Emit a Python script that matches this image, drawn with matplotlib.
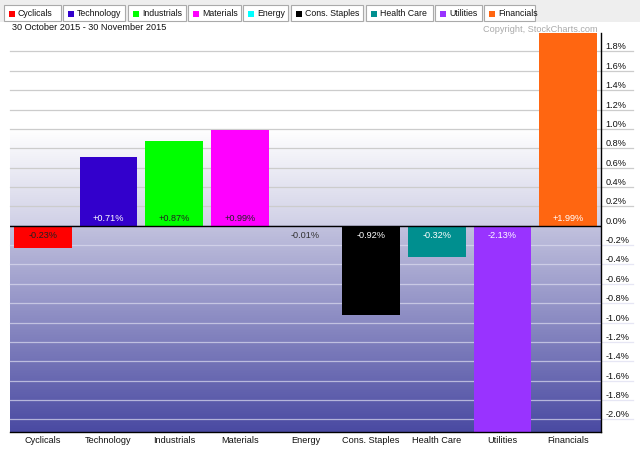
import numpy as np
import matplotlib
matplotlib.use('Agg')
import matplotlib.pyplot as plt
from matplotlib.patches import Rectangle
from matplotlib.colors import to_rgb

plt.rcParams['font.family'] = ['Liberation Sans', 'DejaVu Sans']

# sector performance, 30 Oct 2015 - 30 Nov 2015 (%)
sectors = ['Cyclicals', 'Technology', 'Industrials', 'Materials', 'Energy',
           'Cons. Staples', 'Health Care', 'Utilities', 'Financials']
changes = [-0.23, 0.71, 0.87, 0.99, -0.01, -0.92, -0.32, -2.13, 1.99]
colors = ['#ff0000', '#3300cc', '#00ff00', '#ff00ff', '#00ffff',
          '#000000', '#008f8f', '#9933ff', '#ff6611']
label_colors = ['#222222', 'white', '#222222', '#222222', '#333333',
                'white', 'white', 'white', 'white']
yticks = [-2.0, -1.8, -1.6, -1.4, -1.2, -1.0, -0.8, -0.6, -0.4, -0.2,
          0.0, 0.2, 0.4, 0.6, 0.8, 1.0, 1.2, 1.4, 1.6, 1.8]

W, H = 640, 450
fs = 6.6
fig = plt.figure(figsize=(6.4, 4.5), dpi=100)
fig.patch.set_facecolor('white')

# top gray strip with legend buttons
fig.patches.append(Rectangle((0, 1 - 22 / H), 1, 22 / H, transform=fig.transFigure,
                             facecolor='#eeeeee', edgecolor='none', zorder=0))
btn_x = [4, 63, 128, 188, 243, 291, 366, 435, 484]
btn_w = [57, 62, 58, 53, 45, 72, 67, 47, 51]
for name, c, bx, bw in zip(sectors, colors, btn_x, btn_w):
    fig.patches.append(Rectangle((bx / W, 1 - 21 / H), bw / W, 16 / H,
                                 transform=fig.transFigure, facecolor='white',
                                 edgecolor='#aaaaaa', lw=0.8, zorder=1))
    fig.patches.append(Rectangle(((bx + 5) / W, 1 - 16.5 / H), 6 / W, 6 / H,
                                 transform=fig.transFigure, facecolor=c,
                                 edgecolor='none', zorder=2))
    fig.text((bx + 14) / W, 1 - 13.5 / H, name, fontsize=fs - 0.3, va='center',
             ha='left', color='#111111')

fig.text(12 / W, 1 - 28 / H, '30 October 2015 - 30 November 2015', fontsize=fs,
         va='center', ha='left', color='#111111')
fig.text(598 / W, 1 - 29 / H, 'Copyright, StockCharts.com', fontsize=fs,
         va='center', ha='right', color='#aaaaaa')

x0, x1 = 10, 601
ytop, ybot = 33, 432
ax = fig.add_axes([x0 / W, 1 - ybot / H, (x1 - x0) / W, (ybot - ytop) / H])
ymin, ymax = -2.13, 1.99
xl = (-0.5, len(sectors) - 0.5)

# background gradients
n = 200
yy = np.linspace(0, ymax, n)
c_w, c_t = np.array(to_rgb('#ffffff')), np.array(to_rgb('#d0d0e6'))
f = np.clip((1.0 - yy) / 1.0, 0, 1)[:, None]
top = c_w * (1 - f) + c_t * f
ax.imshow(top[:, None, :], extent=[xl[0], xl[1], 0, ymax],
          origin='lower', aspect='auto', zorder=0)
yy = np.linspace(ymin, 0, n)
c_a, c_b = np.array(to_rgb('#4a4aa2')), np.array(to_rgb('#c2c2de'))
f = ((yy - ymin) / (0 - ymin))[:, None]
bot = c_a * (1 - f) + c_b * f
ax.imshow(bot[:, None, :], extent=[xl[0], xl[1], ymin, 0],
          origin='lower', aspect='auto', zorder=0)
ax.set_ylim(ymin, ymax)
ax.set_xlim(*xl)

# grid lines, extended into label area
for t in yticks:
    if t == 0:
        continue
    gc = '#cccccc' if t > 0 else '#dcdcf0'
    ax.plot([xl[0], xl[1] + 0.48], [t, t], color=gc, lw=0.9,
            zorder=1, clip_on=False, alpha=1 if t > 0 else 0.7)

xs = np.arange(len(sectors))
ax.bar(xs, changes, width=0.88, color=colors, zorder=2)
ax.axhline(0, color='black', lw=1.0, zorder=3)

for x, v, lc in zip(xs, changes, label_colors):
    s = '%+.2f%%' % v
    if v >= 0:
        ax.text(x, 0.03, s, ha='center', va='bottom', fontsize=fs, color=lc, zorder=4)
    else:
        ax.text(x, -0.05, s, ha='center', va='top', fontsize=fs, color=lc, zorder=4)

ax.yaxis.tick_right()
ax.set_yticks(yticks)
ax.set_yticklabels(['%.1f%%' % t for t in yticks])
for lab in ax.get_yticklabels():
    lab.set_va('bottom')
    lab.set_fontsize(fs)
    lab.set_color('#111111')
ax.tick_params(axis='y', length=0, pad=3)
ax.set_xticks(xs)
ax.set_xticklabels(sectors, fontsize=fs, color='#111111')
ax.tick_params(axis='x', length=0, pad=3)

for side in ['top', 'left']:
    ax.spines[side].set_visible(False)
for side in ['right', 'bottom']:
    ax.spines[side].set_color('black')
    ax.spines[side].set_linewidth(1.0)

fig.savefig('out.png', dpi=100)
